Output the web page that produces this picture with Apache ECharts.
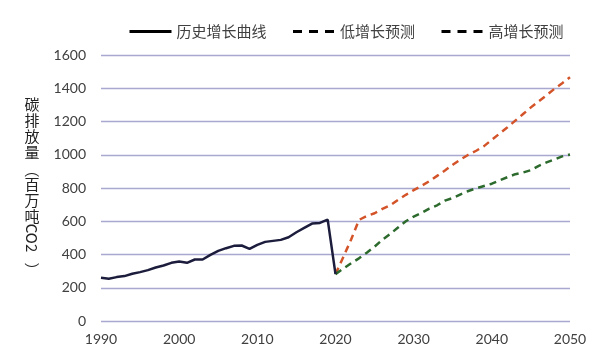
<!DOCTYPE html>
<html>
<head>
<meta charset="utf-8">
<script src="https://cdn.jsdelivr.net/npm/echarts@6/dist/echarts.min.js"></script>
<style>html,body{margin:0;padding:0;background:#fff}#c{width:600px;height:360px}</style>
</head>
<body>
<div id="c"></div>
<script>
const seriesNames = ['历史增长曲线', '低增长预测', '高增长预测'];
const histYears = [1990,1991,1992,1993,1994,1995,1996,1997,1998,1999,2000,2001,2002,2003,2004,2005,2006,2007,2008,2009,2010,2011,2012,2013,2014,2015,2016,2017,2018,2019,2020];
const histValues = [260,254,264,270,284,294,306,322,334,350,358,350,370,370,398,422,438,452,454,434,458,476,482,488,504,534,560,586,590,610,282];
const projYears = [2020,2021,2022,2023,2024,2025,2026,2027,2028,2029,2030,2031,2032,2033,2034,2035,2036,2037,2038,2039,2040,2041,2042,2043,2044,2045,2046,2047,2048,2049,2050];
const lowValues = [282,385,490,608,632,648,674,696,729,759,787,813,841,873,905,940,972,1000,1024,1052,1090,1128,1165,1205,1245,1285,1322,1358,1396,1430,1466];
const highValues = [282,315,347,377,411,447,489,524,562,600,628,650,676,696,724,740,762,782,798,812,826,846,865,883,893,907,933,954,972,990,1002];
const yAxisTitleTop = ['碳','排','放','量'];
const yAxisTitleOpen = '（';
const yAxisTitleMid = ['百','万','吨'];
const yAxisTitleLatin = 'CO2';
const yAxisTitleEnd = '）';

const pair = (xs, ys) => xs.map((x, i) => [x, ys[i]]);

const F = '15px "Noto Sans CJK SC"';
const titleGraphics = [];
yAxisTitleTop.forEach((ch, i) => {
  titleGraphics.push({type:'text', x:32, y:104 + i*16, style:{text:ch, font:F, fill:'#222', align:'center', verticalAlign:'middle'}});
});
titleGraphics.push({type:'text', x:32, y:170, rotation:-Math.PI/2, style:{text:yAxisTitleOpen, font:F, fill:'#222', align:'center', verticalAlign:'middle'}});
yAxisTitleMid.forEach((ch, i) => {
  titleGraphics.push({type:'text', x:32, y:184 + i*16, style:{text:ch, font:F, fill:'#222', align:'center', verticalAlign:'middle'}});
});
titleGraphics.push({type:'text', x:32, y:238, rotation:-Math.PI/2, style:{text:yAxisTitleLatin, font:F, fill:'#222', align:'center', verticalAlign:'middle'}});
titleGraphics.push({type:'text', x:32, y:270, rotation:-Math.PI/2, style:{text:yAxisTitleEnd, font:F, fill:'#222', align:'center', verticalAlign:'middle'}});

const chart = echarts.init(document.getElementById('c'), null, {renderer:'canvas'});
chart.setOption({
  animation:false,
  backgroundColor:'#fff',
  graphic: titleGraphics,
  legend:{
    left:123, top:19, itemWidth:42, itemHeight:14, itemGap:25,
    textStyle:{fontFamily:'"Noto Sans CJK SC"', fontSize:15, color:'#404040'},
    itemStyle:{color:'#000', opacity:0, borderWidth:0},
    lineStyle:{color:'#000', width:3, opacity:1},
    data:[
      {name:seriesNames[0]},
      {name:seriesNames[1], lineStyle:{type:[9,7]}},
      {name:seriesNames[2], lineStyle:{type:[9,7]}}
    ]
  },
  grid:{left:101, right:30, top:55, bottom:39},
  xAxis:{
    type:'value', min:1990, max:2050, interval:10,
    axisLine:{show:false}, axisTick:{show:false}, splitLine:{show:false},
    axisLabel:{fontFamily:'Lato', fontSize:14, color:'#404040', margin:11, formatter:(v)=>String(v)}
  },
  yAxis:{
    type:'value', min:0, max:1600, interval:200,
    axisLine:{show:false}, axisTick:{show:false},
    splitLine:{lineStyle:{color:'#a8a8d0', width:1.3}},
    axisLabel:{fontFamily:'Lato', fontSize:14, color:'#404040', margin:15, formatter:(v)=>String(v)}
  },
  series:[
    {name:seriesNames[0], type:'line', data:pair(histYears, histValues), symbol:'none', lineStyle:{color:'#1c1c3c', width:2.5}, itemStyle:{color:'#1c1c3c'}, z:3},
    {name:seriesNames[1], type:'line', data:pair(projYears, lowValues), symbol:'none', lineStyle:{color:'#d4542a', width:2.5, type:[7,5]}, itemStyle:{color:'#d4542a'}, z:2},
    {name:seriesNames[2], type:'line', data:pair(projYears, highValues), symbol:'none', lineStyle:{color:'#2d6a2d', width:2.5, type:[7,5]}, itemStyle:{color:'#2d6a2d'}, z:2}
  ]
});
</script>
</body>
</html>
